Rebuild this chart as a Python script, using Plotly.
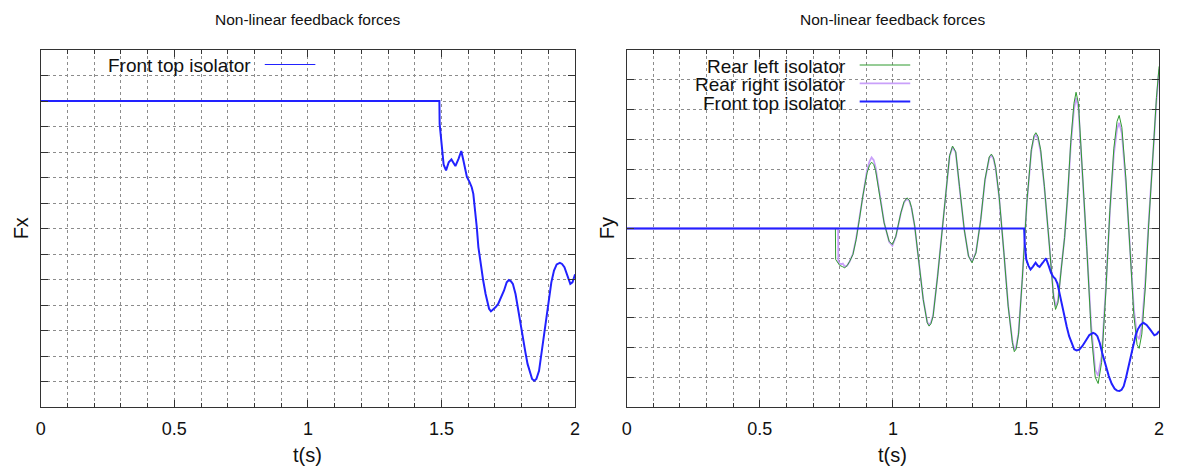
import plotly.graph_objects as go

# ---------------- data (levels in grid units) ----------------
# Left panel: Fx of front top isolator
t_fx = [0, 1.492, 1.493, 1.500, 1.508, 1.517, 1.527, 1.537, 1.545, 1.552, 1.564, 1.574,
        1.582, 1.595, 1.605, 1.613, 1.619, 1.625, 1.632, 1.638, 1.648, 1.656, 1.665,
        1.672, 1.678, 1.685, 1.693, 1.702, 1.712, 1.724, 1.734, 1.744, 1.752, 1.760,
        1.767, 1.777, 1.785, 1.794, 1.804, 1.814, 1.822, 1.832, 1.839, 1.847, 1.855,
        1.865, 1.874, 1.884, 1.892, 1.902, 1.911, 1.921, 1.931, 1.943, 1.951, 1.960,
        1.970, 1.982, 1.990, 1.997, 2.000]
fx_front = [0, 0, -0.90, -1.81, -2.50, -2.72, -2.40, -2.29, -2.46, -2.55, -2.26, -1.96,
            -2.33, -2.98, -3.18, -3.38, -3.64, -4.16, -4.95, -5.73, -6.52, -7.04, -7.57,
            -7.96, -8.15, -8.25, -8.19, -8.09, -7.96, -7.70, -7.43, -7.11, -7.02, -7.07,
            -7.17, -7.57, -8.09, -8.68, -9.27, -9.86, -10.31, -10.71, -10.90, -10.97, -10.90,
            -10.58, -9.92, -9.14, -8.42, -7.70, -7.11, -6.65, -6.41, -6.35, -6.39, -6.52,
            -6.85, -7.17, -7.11, -6.88, -6.80]

# Right panel: Fy
t_ft = [0, 1.493, 1.495, 1.501, 1.509, 1.517, 1.526, 1.536, 1.544, 1.551, 1.563, 1.575,
        1.585, 1.594, 1.602, 1.610, 1.618, 1.625, 1.635, 1.644, 1.653, 1.662, 1.672,
        1.681, 1.690, 1.700, 1.712, 1.725, 1.738, 1.752, 1.760, 1.768, 1.777, 1.786,
        1.798, 1.811, 1.822, 1.833, 1.842, 1.851, 1.859, 1.867, 1.876, 1.886, 1.895,
        1.904, 1.912, 1.920, 1.930, 1.941, 1.953, 1.966, 1.975, 1.982, 1.991, 2.000]
fy_front = [0, 0, -0.48, -1.04, -1.25, -1.38, -1.28, -1.15, -1.25, -1.29, -1.15, -1.00,
            -1.25, -1.49, -1.62, -1.69, -1.85, -2.16, -2.55, -2.95, -3.30, -3.62, -3.88,
            -4.06, -4.10, -4.07, -3.95, -3.75, -3.58, -3.51, -3.54, -3.62, -3.85, -4.18,
            -4.60, -4.96, -5.22, -5.39, -5.45, -5.46, -5.42, -5.30, -5.00, -4.62, -4.22,
            -3.84, -3.58, -3.39, -3.24, -3.17, -3.24, -3.39, -3.52, -3.59, -3.55, -3.45]

t_rl = [0, 0.784, 0.785, 0.792, 0.800, 0.810, 0.819, 0.828, 0.838, 0.850, 0.862, 0.874,
        0.887, 0.903, 0.912, 0.920, 0.928, 0.935, 0.949, 0.967, 0.986, 0.998, 1.011,
        1.030, 1.042, 1.053, 1.062, 1.070, 1.082, 1.098, 1.114, 1.129, 1.136, 1.143,
        1.151, 1.168, 1.185, 1.201, 1.213, 1.224, 1.236, 1.250, 1.268, 1.284, 1.297,
        1.312, 1.330, 1.346, 1.362, 1.370, 1.378, 1.386, 1.399, 1.417, 1.433, 1.449,
        1.456, 1.463, 1.472, 1.486, 1.503, 1.520, 1.530, 1.537, 1.545, 1.555, 1.569,
        1.588, 1.603, 1.611, 1.620, 1.632, 1.645, 1.657, 1.668, 1.680, 1.688, 1.697,
        1.712, 1.728, 1.745, 1.760, 1.771, 1.784, 1.800, 1.815, 1.830, 1.842, 1.850,
        1.860, 1.875, 1.890, 1.905, 1.917, 1.925, 1.935, 1.948, 1.960, 1.970, 1.980,
        1.990, 2.000]
fy_rear_left = [0, 0, -1.04, -1.15, -1.24, -1.28, -1.32, -1.25, -1.10, -0.87, -0.37, 0.30,
                1.09, 1.87, 2.12, 2.23, 2.15, 1.95, 1.20, 0.19, -0.43, -0.54, -0.26,
                0.53, 0.90, 1.03, 0.95, 0.70, 0.08, -1.15, -2.39, -3.17, -3.28, -3.20,
                -2.95, -1.60, -0.03, 1.42, 2.45, 2.77, 2.58, 1.42, -0.03, -0.93, -1.15,
                -0.82, 0.30, 1.65, 2.41, 2.50, 2.38, 2.05, 1.09, -0.82, -2.61, -3.84,
                -4.14, -4.05, -3.55, -1.71, 0.86, 2.65, 3.12, 3.22, 3.10, 2.65, 1.42,
                -0.59, -2.27, -2.72, -2.50, -1.40, -0.30, 1.20, 2.90, 4.20, 4.58, 4.20,
                2.00, -0.60, -3.50, -5.00, -5.21, -4.50, -2.10, 0.60, 2.70, 3.60, 3.80,
                3.40, 1.70, -0.60, -2.90, -3.90, -4.03, -3.55, -2.00, 0.00, 1.60, 3.10,
                4.40, 5.45]

t_rr = [0, 0.794, 0.795, 0.800, 0.806, 0.812, 0.819, 0.828, 0.838, 0.850, 0.862, 0.874,
        0.887, 0.903, 0.912, 0.920, 0.928, 0.935, 0.949, 0.967, 0.986, 0.998, 1.011,
        1.030, 1.042, 1.053, 1.062, 1.070, 1.082, 1.098, 1.114, 1.129, 1.136, 1.143,
        1.151, 1.168, 1.185, 1.201, 1.213, 1.224, 1.236, 1.250, 1.268, 1.284, 1.297,
        1.312, 1.330, 1.346, 1.362, 1.370, 1.378, 1.386, 1.399, 1.417, 1.433, 1.449,
        1.456, 1.463, 1.472, 1.486, 1.503, 1.520, 1.530, 1.537, 1.545, 1.555, 1.569,
        1.588, 1.603, 1.611, 1.620, 1.632, 1.645, 1.657, 1.668, 1.680, 1.688, 1.697,
        1.712, 1.728, 1.745, 1.760, 1.771, 1.784, 1.800, 1.815, 1.830, 1.842, 1.850,
        1.860, 1.875, 1.890, 1.905, 1.917, 1.925, 1.935, 1.948, 1.960, 1.970, 1.980,
        1.990, 2.000]
fy_rear_right = [0, 0, -1.12, -1.18, -1.20, -1.18, -1.28, -1.25, -1.10, -0.85, -0.33, 0.35,
                 1.15, 1.97, 2.25, 2.39, 2.30, 2.05, 1.25, 0.20, -0.45, -0.58, -0.28,
                 0.52, 0.88, 1.00, 0.92, 0.68, 0.06, -1.15, -2.38, -3.14, -3.24, -3.16,
                 -2.92, -1.58, -0.02, 1.42, 2.43, 2.74, 2.55, 1.40, -0.04, -0.92, -1.12,
                 -0.80, 0.30, 1.63, 2.37, 2.46, 2.34, 2.01, 1.06, -0.82, -2.58, -3.80,
                 -4.08, -3.98, -3.50, -1.70, 0.84, 2.60, 3.06, 3.15, 3.02, 2.58, 1.38,
                 -0.58, -2.20, -2.62, -2.42, -1.36, -0.30, 1.15, 2.78, 4.00, 4.39, 4.05,
                 1.90, -0.60, -3.30, -4.75, -4.95, -4.30, -2.00, 0.55, 2.50, 3.35, 3.55,
                 3.20, 1.55, -0.60, -2.70, -3.60, -3.72, -3.30, -1.80, 0.10, 1.60, 3.10,
                 4.30, 5.35]

series_names = ["Rear left isolator", "Rear right isolator", "Front top isolator"]
colors = {"Rear left isolator": "#2f9a2f",
          "Rear right isolator": "#c9a0fa",
          "Front top isolator": "#2222ff"}
widths = {"Rear left isolator": 1.0, "Rear right isolator": 1.8, "Front top isolator": 2.0}

title_text = "Non-linear feedback forces"
xlabel = "t(s)"

# ---------------- layout geometry (pixels) ----------------
W, H = 1178, 467
L1, R1 = 36, 575
L2, R2 = 627, 1164
TOP, BOT = 50, 407


def px(x):
    return x / W


def py(y):
    return 1 - y / H


FONT = "Liberation Sans, Arial, sans-serif"
GRID = "#8c8c8c"
AXC = "#333333"
TITLE_SIZE = 15.5
TICK_SIZE = 18
LABEL_SIZE = 20
LEGEND_SIZE = 19

fig = go.Figure()

fig.add_trace(go.Scatter(x=t_fx, y=fx_front, mode="lines", name="Front top isolator",
                         line=dict(color=colors["Front top isolator"], width=widths["Front top isolator"]),
                         xaxis="x", yaxis="y", showlegend=False))

fig.add_trace(go.Scatter(x=t_rr, y=fy_rear_right, mode="lines", name="Rear right isolator",
                         line=dict(color=colors["Rear right isolator"], width=widths["Rear right isolator"]),
                         xaxis="x2", yaxis="y2", showlegend=False))
fig.add_trace(go.Scatter(x=t_rl, y=fy_rear_left, mode="lines", name="Rear left isolator",
                         line=dict(color=colors["Rear left isolator"], width=widths["Rear left isolator"]),
                         xaxis="x2", yaxis="y2", showlegend=False))
fig.add_trace(go.Scatter(x=t_ft, y=fy_front, mode="lines", name="Front top isolator",
                         line=dict(color=colors["Front top isolator"], width=widths["Front top isolator"]),
                         xaxis="x2", yaxis="y2", showlegend=False))


def xaxis(domain, anchor):
    return dict(domain=domain, anchor=anchor, range=[0, 2], tick0=0, dtick=0.5,
                ticks="inside", ticklen=7, tickwidth=1, tickcolor=AXC,
                showline=True, linecolor=AXC, linewidth=1.3, mirror="allticks",
                showgrid=True, gridcolor=GRID, griddash="dot", gridwidth=1,
                zeroline=False, ticklabelstandoff=5,
                tickfont=dict(family=FONT, size=TICK_SIZE, color="#111"),
                minor=dict(dtick=0.1, tick0=0, ticks="inside", ticklen=4, tickcolor=AXC,
                           showgrid=True, gridcolor=GRID, griddash="dot", gridwidth=1))


def yaxis(domain, anchor, rng):
    return dict(domain=domain, anchor=anchor, range=rng, tick0=0, dtick=1,
                ticks="inside", ticklen=7, tickwidth=1, tickcolor=AXC,
                showline=True, linecolor=AXC, linewidth=1.3, mirror="allticks",
                showgrid=True, gridcolor=GRID, griddash="dot", gridwidth=1,
                zeroline=False, showticklabels=False)


ydom = [py(BOT), py(TOP)]
fig.update_layout(
    width=W, height=H, margin=dict(l=0, r=0, t=0, b=0),
    paper_bgcolor="white", plot_bgcolor="white",
    xaxis=xaxis([px(L1), px(R1)], "y"),
    yaxis=yaxis(ydom, "x", [-12, 2]),
    xaxis2=xaxis([px(L2), px(R2)], "y2"),
    yaxis2=yaxis(ydom, "x2", [-6, 6]),
    showlegend=False,
    font=dict(family=FONT, color="#111"),
)

ann = []
for cx in [(L1 + R1) / 2, (L2 + R2) / 2]:
    ann.append(dict(text=title_text, x=px(cx), y=py(20), xref="paper", yref="paper",
                    showarrow=False, font=dict(size=TITLE_SIZE, family=FONT, color="#111"),
                    xanchor="center", yanchor="middle"))
    ann.append(dict(text=xlabel, x=px(cx), y=py(455), xref="paper", yref="paper",
                    showarrow=False, font=dict(size=LABEL_SIZE, family=FONT, color="#111"),
                    xanchor="center", yanchor="middle"))
ann.append(dict(text="Fx", x=px(17), y=py((TOP + BOT) / 2), xref="paper", yref="paper",
                showarrow=False, textangle=-90, font=dict(size=LABEL_SIZE, family=FONT, color="#111"),
                xanchor="center", yanchor="middle"))
ann.append(dict(text="Fy", x=px(608), y=py((TOP + BOT) / 2), xref="paper", yref="paper",
                showarrow=False, textangle=-90, font=dict(size=LABEL_SIZE, family=FONT, color="#111"),
                xanchor="center", yanchor="middle"))

shapes = []
# opaque key box on the right panel
shapes.append(dict(type="rect", xref="paper", yref="paper", x0=px(L2 + 1), x1=px(922),
                   y0=py(114), y1=py(TOP + 1), fillcolor="white", line=dict(width=0),
                   layer="between"))

# legend of left panel
ann.append(dict(text="Front top isolator", x=px(250), y=py(66), xref="paper", yref="paper",
                showarrow=False, xanchor="right", yanchor="middle",
                font=dict(size=LEGEND_SIZE, family=FONT, color="#111")))
shapes.append(dict(type="line", xref="paper", yref="paper", x0=px(262), x1=px(313),
                   y0=py(64.5), y1=py(64.5),
                   line=dict(color=colors["Front top isolator"], width=1.2)))

# legend of right panel
for i, name in enumerate(series_names):
    yy = 66.5 + i * 18.3
    ann.append(dict(text=name, x=px(850), y=py(yy), xref="paper", yref="paper",
                    showarrow=False, xanchor="right", yanchor="middle",
                    font=dict(size=LEGEND_SIZE, family=FONT, color="#111")))
    shapes.append(dict(type="line", xref="paper", yref="paper", x0=px(862), x1=px(913),
                       y0=py(yy - 1.5), y1=py(yy - 1.5),
                       line=dict(color=colors[name], width=widths[name])))

fig.update_layout(annotations=ann, shapes=shapes)

fig.write_html("out.html", config={"displayModeBar": False},
               post_script="document.body.style.margin='0';document.body.style.overflow='hidden';")
